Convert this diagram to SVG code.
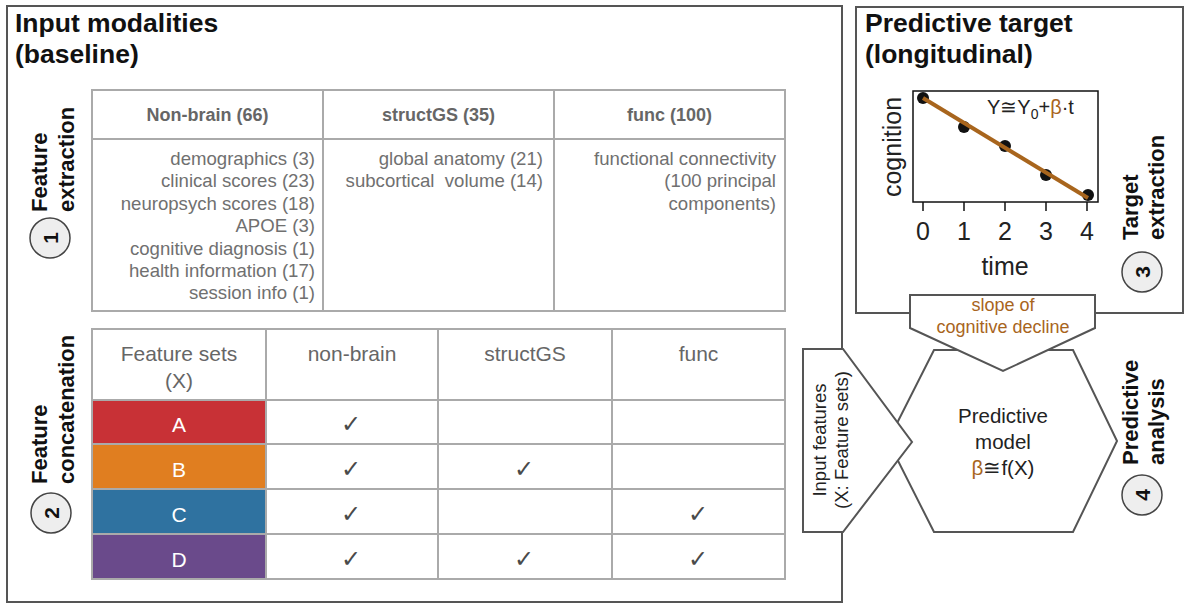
<svg xmlns="http://www.w3.org/2000/svg" width="1186" height="604" viewBox="0 0 1186 604">
<style>
text{font-family:"Liberation Sans",Arial,sans-serif}
.box{fill:#fff;stroke:#555;stroke-width:2}
.title{font-size:26.5px;font-weight:bold;fill:#111}
.tl{fill:none;stroke:#aaa;stroke-width:2}
.th{font-size:18px;font-weight:bold;fill:#666;text-anchor:middle}
.tb{font-size:18.6px;fill:#707070;text-anchor:end}
.bh{font-size:21px;fill:#666;text-anchor:middle}
.let{font-size:21px;fill:#fff;text-anchor:middle}
.chk{font-family:"DejaVu Sans",sans-serif;font-size:24px;fill:#4a4a4a;text-anchor:middle}
.lab{font-size:22px;font-weight:bold;fill:#111}
.num{fill:#eee;stroke:#444;stroke-width:1.5}
.numt{font-size:21px;font-weight:bold;fill:#111;text-anchor:middle}
.plt{font-family:"DejaVu Sans",sans-serif;font-size:25px;fill:#222}
.shape{fill:#fff;stroke:#555;stroke-width:2}
.brown{fill:#a8651d}
.mt{font-size:20.5px;fill:#222;text-anchor:middle}
</style>

<g id="input-modalities">
<rect class="box" x="7" y="6" width="835" height="596"/>
<text class="title" x="15" y="32">Input modalities</text>
<text class="title" x="15" y="63">(baseline)</text>
</g>

<g id="predictive-target">
<rect class="box" x="856" y="7" width="327" height="306"/>
<text class="title" x="865" y="32">Predictive target</text>
<text class="title" x="865" y="63">(longitudinal)</text>
</g>

<g id="feature-extraction-table">
<rect class="tl" x="92" y="90" width="693" height="221"/>
<line class="tl" x1="92" y1="139" x2="785" y2="139"/>
<line class="tl" x1="323" y1="90" x2="323" y2="311"/>
<line class="tl" x1="554" y1="90" x2="554" y2="311"/>
<text class="th" x="207.5" y="121">Non-brain (66)</text>
<text class="th" x="438.5" y="121">structGS (35)</text>
<text class="th" x="669.5" y="121">func (100)</text>
<text class="tb" x="315" y="165">demographics (3)</text>
<text class="tb" x="315" y="187.4">clinical scores (23)</text>
<text class="tb" x="315" y="209.8">neuropsych scores (18)</text>
<text class="tb" x="315" y="232.2">APOE (3)</text>
<text class="tb" x="315" y="254.6">cognitive diagnosis (1)</text>
<text class="tb" x="315" y="277">health information (17)</text>
<text class="tb" x="315" y="299.4">session info (1)</text>
<text class="tb" x="543" y="165">global anatomy (21)</text>
<text class="tb" x="543" y="187.4" xml:space="preserve">subcortical  volume (14)</text>
<text class="tb" x="776" y="165">functional connectivity</text>
<text class="tb" x="776" y="187.4">(100 principal</text>
<text class="tb" x="776" y="209.8">components)</text>
</g>

<g id="feature-concatenation-table">
<rect x="92" y="400" width="174" height="44" fill="#c83136"/>
<rect x="92" y="444" width="174" height="45" fill="#e07e20"/>
<rect x="92" y="489" width="174" height="45" fill="#2f72a0"/>
<rect x="92" y="534" width="174" height="45" fill="#6a4a8b"/>
<rect class="tl" x="92" y="329" width="693" height="250"/>
<line class="tl" x1="92" y1="400" x2="785" y2="400"/>
<line class="tl" x1="92" y1="444" x2="785" y2="444"/>
<line class="tl" x1="92" y1="489" x2="785" y2="489"/>
<line class="tl" x1="92" y1="534" x2="785" y2="534"/>
<line class="tl" x1="266" y1="329" x2="266" y2="579"/>
<line class="tl" x1="438" y1="329" x2="438" y2="579"/>
<line class="tl" x1="612" y1="329" x2="612" y2="579"/>
<text class="bh" x="179" y="361">Feature sets</text>
<text class="bh" x="179" y="388">(X)</text>
<text class="bh" x="352" y="361">non-brain</text>
<text class="bh" x="525" y="361">structGS</text>
<text class="bh" x="698.5" y="361">func</text>
<text class="let" x="179" y="432">A</text>
<text class="let" x="179" y="477">B</text>
<text class="let" x="179" y="522">C</text>
<text class="let" x="179" y="567">D</text>
<text class="chk" x="351" y="432">✓</text>
<text class="chk" x="351" y="477">✓</text>
<text class="chk" x="524" y="477">✓</text>
<text class="chk" x="351" y="522">✓</text>
<text class="chk" x="698" y="522">✓</text>
<text class="chk" x="351" y="567">✓</text>
<text class="chk" x="524" y="567">✓</text>
<text class="chk" x="698" y="567">✓</text>
</g>

<g id="step-1">
<text class="lab" transform="translate(47,212) rotate(-90)">Feature</text>
<text class="lab" transform="translate(74,212) rotate(-90)">extraction</text>
<circle class="num" cx="50" cy="238" r="20"/>
<text class="numt" transform="translate(50,238) rotate(-90)" y="7.5">1</text>
</g>

<g id="step-2">
<text class="lab" transform="translate(47,484) rotate(-90)">Feature</text>
<text class="lab" transform="translate(74,484) rotate(-90)">concatenation</text>
<circle class="num" cx="51" cy="513" r="20"/>
<text class="numt" transform="translate(51,513) rotate(-90)" y="7.5">2</text>
</g>

<g id="step-3">
<text class="lab" transform="translate(1138,240) rotate(-90)">Target</text>
<text class="lab" transform="translate(1164,240) rotate(-90)">extraction</text>
<circle class="num" cx="1142" cy="272" r="20"/>
<text class="numt" transform="translate(1142,272) rotate(-90)" y="7.5">3</text>
</g>

<g id="step-4">
<text class="lab" transform="translate(1138,465) rotate(-90)">Predictive</text>
<text class="lab" transform="translate(1164,465) rotate(-90)">analysis</text>
<circle class="num" cx="1142" cy="495" r="20"/>
<text class="numt" transform="translate(1142,495) rotate(-90)" y="7.5">4</text>
</g>

<g id="plot">
<rect x="913" y="91" width="185" height="111" fill="#fff" stroke="#111" stroke-width="1.5"/>
<g stroke="#111" stroke-width="1.5">
<line x1="923" y1="202" x2="923" y2="211"/>
<line x1="964" y1="202" x2="964" y2="211"/>
<line x1="1005" y1="202" x2="1005" y2="211"/>
<line x1="1046" y1="202" x2="1046" y2="211"/>
<line x1="1087" y1="202" x2="1087" y2="211"/>
</g>
<g fill="#111">
<circle cx="923" cy="98" r="6"/>
<circle cx="964" cy="127" r="6"/>
<circle cx="1005" cy="146" r="6"/>
<circle cx="1046" cy="175" r="6"/>
<circle cx="1088" cy="195" r="6"/>
</g>
<line x1="923" y1="98" x2="1088" y2="198" stroke="#a8651d" stroke-width="4"/>
<text x="987" y="114" font-size="20" fill="#222">Y≅Y<tspan font-size="14" dy="5">0</tspan><tspan dy="-5">+</tspan><tspan class="brown">β</tspan>·t</text>
<g class="plt" text-anchor="middle">
<text x="923" y="240">0</text>
<text x="964" y="240">1</text>
<text x="1005" y="240">2</text>
<text x="1046" y="240">3</text>
<text x="1087" y="240">4</text>
<text x="1005" y="275">time</text>
<text transform="translate(901,147) rotate(-90)">cognition</text>
</g>
</g>

<g id="predictive-model">
<polygon class="shape" points="934,350 1073,350 1117,441 1073,532 934,532 888,441"/>
<text class="mt" x="1003" y="423">Predictive</text>
<text class="mt" x="1003" y="449">model</text>
<text class="mt" x="1003" y="475"><tspan class="brown">β</tspan>≅f(X)</text>
</g>

<g id="connectors">
<g id="input-features">
<polygon class="shape" points="803,349 843,349 912,442 843,532 803,532"/>
<text transform="translate(826,440) rotate(-90)" font-size="18.5" fill="#222" text-anchor="middle">Input features</text>
<text transform="translate(848,440) rotate(-90)" font-size="18.5" fill="#222" text-anchor="middle">(X: Feature sets)</text>
</g>
<g id="slope-of-decline">
<polygon class="shape" points="910,295 1095,295 1095,328 1003,371 910,328"/>
<text x="1003" y="311" font-size="18" fill="#a8651d" text-anchor="middle">slope of</text>
<text x="1003" y="333" font-size="18" fill="#a8651d" text-anchor="middle">cognitive decline</text>
</g>
</g>
</svg>
